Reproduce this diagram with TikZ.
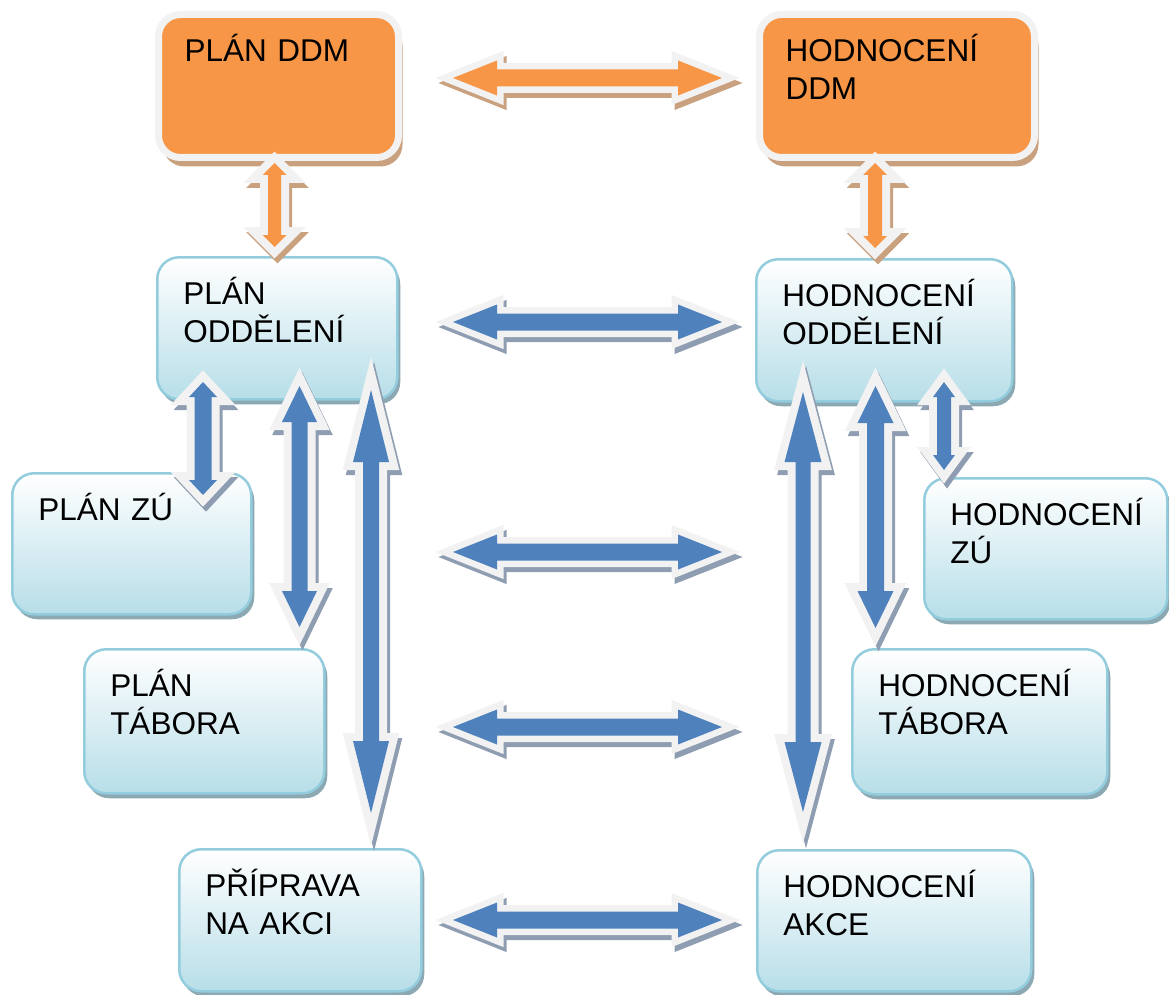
\documentclass[tikz,border=0pt]{standalone}
\usepackage{fontspec}
\setmainfont{Liberation Sans}
\usetikzlibrary{calc,shadows}

\definecolor{ddmorange}{HTML}{F79646}
\definecolor{ddmtan}{HTML}{C9A17F}
\definecolor{oddblue}{HTML}{4F81BD}
\definecolor{oddshade}{HTML}{8E9DB1}
\definecolor{boxblue}{HTML}{B7DEE8}
\definecolor{boxedge}{HTML}{93CDDD}
\definecolor{boxshade}{HTML}{8BA8B3}
\definecolor{rim}{HTML}{F2F2F2}

\tikzset{
	shaft/.store in=\arshaft, shaft=8.5pt,
	barb/.store in=\arbarb, barb=17.5pt,
	tiplen/.store in=\artip, tiplen=44pt,
	rimwidth/.store in=\arrim, rimwidth=13pt,
	fatarrow/.style={to path={
		let \p1=(\tikztostart), \p2=(\tikztotarget), \n1={atan2(\y2-\y1,\x2-\x1)} in
		(\p1) -- ($(\p1)+(\n1:\artip)+(\n1+90:\arbarb)$)
		-- ($(\p1)+(\n1:\artip)+(\n1+90:\arshaft)$)
		-- ($(\p2)+(\n1:-\artip)+(\n1+90:\arshaft)$)
		-- ($(\p2)+(\n1:-\artip)+(\n1+90:\arbarb)$)
		-- (\p2)
		-- ($(\p2)+(\n1:-\artip)+(\n1-90:\arbarb)$)
		-- ($(\p2)+(\n1:-\artip)+(\n1-90:\arshaft)$)
		-- ($(\p1)+(\n1:\artip)+(\n1-90:\arshaft)$)
		-- ($(\p1)+(\n1:\artip)+(\n1-90:\arbarb)$)
		-- cycle}},
	way/.style 2 args={fatarrow, fill=#1,
		preaction={draw=#2, fill=#2, line width=\arrim, line join=miter,
			transform canvas={shift={(3pt,-5pt)}}},
		preaction={draw=rim, line width=\arrim, line join=miter}},
	blueway/.style={way={oddblue}{oddshade}},
	orangeway/.style={way={ddmorange}{ddmtan}},
	box/.style={rectangle, rounded corners=22pt, anchor=north west, align=left,
		inner xsep=26pt, inner ysep=0pt, text height=47pt,
		font=\fontsize{31.5}{38}\selectfont},
	orangebox/.style={box, fill=ddmorange, draw=rim, line width=7pt,
		drop shadow={shadow xshift=4pt, shadow yshift=-9pt, fill=ddmtan, opacity=1}},
	bluebox/.style={box, draw=boxedge, line width=2.5pt, top color=white, bottom color=boxblue,
		drop shadow={shadow xshift=3pt, shadow yshift=-5pt, fill=boxshade, opacity=1}}
}

\begin{document}
\begin{tikzpicture}[x=1pt, y=-1pt]
	\useasboundingbox (0,0) rectangle (1169,995);

	\node[orangebox, text width=188pt, text depth=96pt] (PD) at (155,11) {PLÁN DDM};
	\node[orangebox, text width=223pt, text depth=96pt] (HD) at (756,11) {HODNOCENÍ\\DDM};

	\node[bluebox, text width=188pt, text depth=95pt] (PO) at (156,256) {PLÁN\\ODDĚLENÍ};
	\node[bluebox, text width=204pt, text depth=95pt] (HO) at (755,258) {HODNOCENÍ\\ODDĚLENÍ};
	\node[bluebox, text width=187pt, text depth=94pt] (PZ) at (11,472) {PLÁN ZÚ};
	\node[bluebox, text width=191pt, text depth=94pt] (HZ) at (923,477) {HODNOCENÍ\\ZÚ};
	\node[bluebox, text width=188pt, text depth=97pt] (PT) at (83,648) {PLÁN\\TÁBORA};
	\node[bluebox, text width=203pt, text depth=98pt] (HT) at (851,648) {HODNOCENÍ\\TÁBORA};
	\node[bluebox, text width=190pt, text depth=95pt] (PA) at (178,848) {PŘÍPRAVA\\NA AKCI};
	\node[bluebox, text width=222pt, text depth=94pt] (HA) at (756,849) {HODNOCENÍ\\AKCE};

	\coordinate (A1) at (453,78);	\coordinate (B1) at (722,78);
	\coordinate (A2) at (453,322);	\coordinate (B2) at (722,322);
	\coordinate (A3) at (453,552);	\coordinate (B3) at (722,552);
	\coordinate (A4) at (453,727);	\coordinate (B4) at (722,727);
	\coordinate (A5) at (453,920);	\coordinate (B5) at (722,920);

	\coordinate (C1) at (274.5,163);	\coordinate (D1) at (274.5,247);
	\coordinate (C2) at (875,163);	\coordinate (D2) at (875,248);
	\coordinate (C3) at (203,382);	\coordinate (D3) at (203,495);
	\coordinate (C4) at (299.5,386);	\coordinate (D4) at (299.5,627);
	\coordinate (C5) at (371,390);	\coordinate (D5) at (371,813);
	\coordinate (C6) at (803,392);	\coordinate (D6) at (803,812);
	\coordinate (C7) at (875.5,386);	\coordinate (D7) at (875.5,628);
	\coordinate (C8) at (944,382);	\coordinate (D8) at (944,470);

	\fill[orangeway] (A1) to (B1);
	\fill[blueway] (A2) to (B2);
	\fill[blueway] (A3) to (B3);
	\fill[blueway] (A4) to (B4);
	\fill[blueway] (A5) to (B5);

	\fill[orangeway, rimwidth=16pt, shaft=6.5pt, barb=12pt, tiplen=12pt] (C1) to (D1);
	\fill[orangeway, rimwidth=16pt, shaft=7pt, barb=12pt, tiplen=12pt] (C2) to (D2);
	\fill[blueway, rimwidth=16pt, shaft=8.5pt, barb=14pt, tiplen=15pt] (C3) to (D3);
	\fill[blueway, rimwidth=16pt, shaft=8pt, barb=17.5pt, tiplen=36pt] (C4) to (D4);
	\fill[blueway, rimwidth=16pt, shaft=8pt, barb=18pt, tiplen=72pt] (C5) to (D5);
	\fill[blueway, rimwidth=16pt, shaft=7.5pt, barb=18.5pt, tiplen=70pt] (C6) to (D6);
	\fill[blueway, rimwidth=16pt, shaft=8.5pt, barb=18pt, tiplen=37pt] (C7) to (D7);
	\fill[blueway, rimwidth=16pt, shaft=7pt, barb=11pt, tiplen=15pt] (C8) to (D8);

\end{tikzpicture}
\end{document}
